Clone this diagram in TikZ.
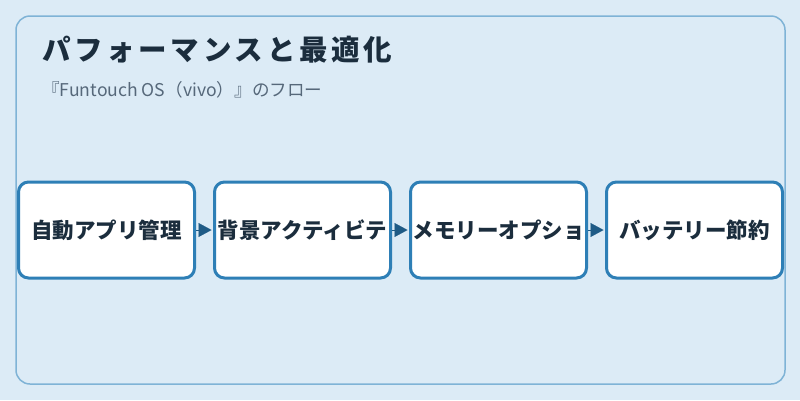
\documentclass[tikz,border=0pt]{standalone}
\usepackage{fontspec}
\setmainfont{Noto Sans CJK JP}
\usepackage{tikz}
\usetikzlibrary{arrows.meta,positioning,shapes}
\definecolor{bgblue}{HTML}{DCEBF6}
\definecolor{frameblue}{HTML}{7FB3D6}
\definecolor{boxblue}{HTML}{2E7FB6}
\definecolor{arrowblue}{HTML}{1F5B86}
\definecolor{titleink}{HTML}{1B2D3D}
\definecolor{subink}{HTML}{56687A}
\tikzset{
    stepbox/.style={draw=boxblue, line width=3pt, rounded corners=10pt, fill=white,
        minimum width=176pt, minimum height=96pt, inner sep=0pt,
        font=\fontsize{21.5}{21.5}\selectfont\bfseries, text=titleink},
    flow/.style={-{Triangle[length=13pt,width=14pt]}, arrowblue, line width=0.1pt, shorten >=1.5pt}
}

\begin{document}
\begin{tikzpicture}[x=1pt,y=-1pt]
                        \useasboundingbox[fill=bgblue] (0,0) rectangle (800,400);
                        \draw[frameblue, line width=1.5pt, rounded corners=14pt] (16,16) rectangle (785,384);
                        \node[anchor=base west, inner sep=0pt, text=titleink,
                            font=\fontsize{28.5}{28.5}\selectfont\bfseries\addfontfeatures{LetterSpace=13}]
                            (title) at (42,60) {パフォーマンスと最適化};
                        \node[anchor=base west, inner sep=0pt, text=subink, font=\fontsize{17.6}{17.6}\selectfont]
                            (subtitle) at (42,96.5) {『Funtouch OS（vivo）』のフロー};
                        \node[stepbox] (auto) at (106.5,230) {自動アプリ管理};
                        \node[stepbox, right=17pt of auto] (background) {背景アクティビテ};
                        \node[stepbox, right=17pt of background] (memory) {メモリーオプショ};
                        \node[stepbox, right=17pt of memory] (battery) {バッテリー節約};
                        \foreach \a/\b in {auto/background,background/memory,memory/battery}
                        \draw[flow] (\a.east) -- (\b.west);
                    \end{tikzpicture}
\end{document}
